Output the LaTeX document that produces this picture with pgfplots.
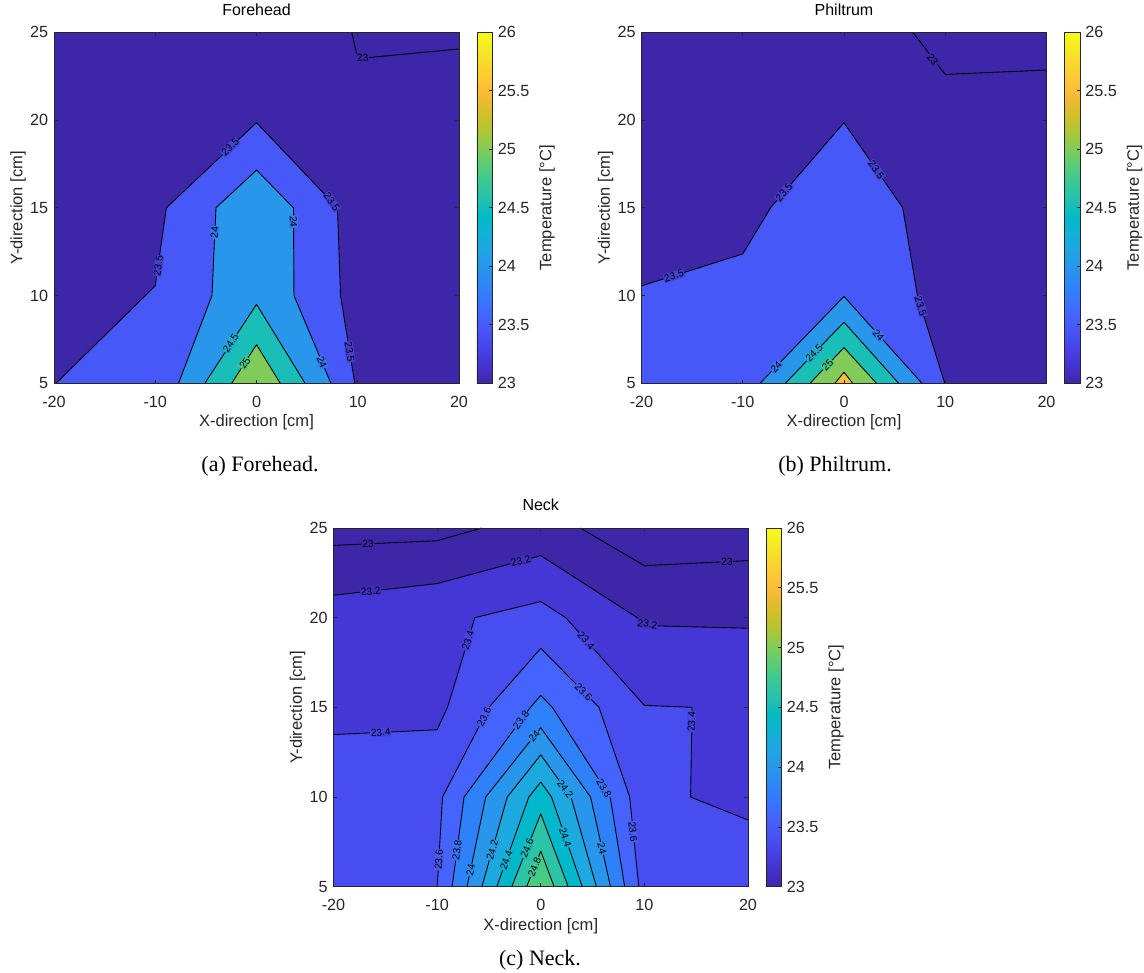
\documentclass[border=0pt]{standalone}
\usepackage{fontspec}
\setmainfont{Liberation Sans}
\newfontfamily\capfont{Liberation Serif}
\usepackage{pgfplots}
\pgfplotsset{compat=1.18}

% parula levels (MATLAB 64-colour map, clim 23..26)
\definecolor{axgray}{rgb}{0.15,0.15,0.15}
\definecolor{c1}{rgb}{0.2422,0.1504,0.6603}
\definecolor{c5}{rgb}{0.2706,0.2147,0.8364}
\definecolor{c9}{rgb}{0.2813,0.3006,0.9414}
\definecolor{c11}{rgb}{0.2795,0.3447,0.9717}
\definecolor{c13}{rgb}{0.2699,0.3892,0.9906}
\definecolor{c18}{rgb}{0.1834,0.5074,0.9798}
\definecolor{c22}{rgb}{0.1540,0.5902,0.9218}
\definecolor{c26}{rgb}{0.1113,0.6635,0.8763}
\definecolor{c30}{rgb}{0.0036,0.7203,0.7917}
\definecolor{c33}{rgb}{0.0964,0.7500,0.7120}
\definecolor{c35}{rgb}{0.1717,0.7670,0.6554}
\definecolor{c39}{rgb}{0.2906,0.7973,0.5188}
\definecolor{c43}{rgb}{0.5044,0.7993,0.3480}
\definecolor{c54}{rgb}{0.9956,0.7434,0.2371}

\newcommand\tickf{\fontsize{9.2}{11}\selectfont}
\newcommand\labf{\fontsize{9.4}{11}\selectfont}
\newcommand\cl[5]{\node[clab, rotate=#3, fill=#5] at (axis cs:#1,#2) {#4};}

\tikzset{clab/.style={font=\fontsize{5.8}{6}\selectfont, inner sep=0.4pt, text=black}}

\pgfplotsset{
  colormap={parula}{
    rgb=(0.2422,0.1504,0.6603) rgb=(0.2647,0.1978,0.7952) rgb=(0.2783,0.2559,0.8991)
    rgb=(0.2810,0.3228,0.9579) rgb=(0.2699,0.3892,0.9906) rgb=(0.2206,0.4603,0.9973)
    rgb=(0.1786,0.5289,0.9682) rgb=(0.1540,0.5902,0.9218) rgb=(0.1248,0.6459,0.8883)
    rgb=(0.0689,0.6948,0.8394) rgb=(0.0067,0.7312,0.7660) rgb=(0.1408,0.7584,0.6842)
    rgb=(0.2161,0.7843,0.5923) rgb=(0.3406,0.8008,0.4789) rgb=(0.5044,0.7993,0.3480)
    rgb=(0.6720,0.7793,0.2227) rgb=(0.8203,0.7498,0.1535) rgb=(0.9393,0.7288,0.2100)
    rgb=(0.9970,0.7659,0.2199) rgb=(0.9786,0.8386,0.1766) rgb=(0.9597,0.9135,0.1423)
    rgb=(0.9769,0.9839,0.0805)
  },
  cline/.style={black, line width=0.5pt, line join=round},
  heat/.style={
    scale only axis, axis on top,
    xmin=-20, xmax=20, ymin=5, ymax=25,
    xtick={-20,-10,0,10,20}, ytick={5,10,15,20,25},
    tick align=inside, major tick length=0.07cm,
    axis line style={axgray, line width=0.4pt},
    tick style={axgray, line width=0.4pt},
    /pgf/number format/assume math mode=true,
    tick label style={text=axgray, font=\tickf},
    xticklabel style={inner sep=0pt, yshift=-0.25cm},
    yticklabel style={inner sep=0pt, xshift=-0.11cm},
    xlabel={X-direction [cm]}, ylabel={Y-direction [cm]},
    label style={text=axgray, font=\labf},
    xlabel style={at={(axis description cs:0.5,0)}, anchor=north, inner sep=0pt, yshift=-0.62cm},
    ylabel style={at={([xshift=-0.72cm]axis description cs:0,0.5)}, anchor=center, inner sep=0pt},
    title style={at={(axis description cs:0.5,1)}, anchor=base, inner sep=0pt, yshift=0.13cm, font=\fontsize{9.1}{11}\selectfont},
    colormap name=parula, point meta min=23, point meta max=26,
    colorbar,
    colorbar style={
      scale only axis, width=0.31cm,
      at={(parent axis.north east)}, anchor=north west, xshift=0.06cm,
      ytick={23,23.5,24,24.5,25,25.5,26},
      ytick pos=right, yticklabel pos=right,
      tick align=inside, major tick length=0.06cm,
      axis line style={axgray, line width=0.4pt},
      tick style={axgray, line width=0.4pt},
      /pgf/number format/assume math mode=true,
      yticklabel style={inner sep=0pt, xshift=0.1cm, text=axgray, font=\tickf, anchor=west},
      ylabel={Temperature [°C]},
      ylabel style={at={([xshift=1.40cm]axis description cs:0,0.5)}, anchor=center, inner sep=0pt, text=axgray, font=\labf},
    },
  },
}

\begin{document}
\begin{tikzpicture}
\path[use as bounding box] (0,0) rectangle (22.88cm,19.46cm);

% ---------------- (a) Forehead
\begin{axis}[heat, at={(1.08cm,11.794cm)}, anchor=south west, width=8.10cm, height=7.02cm, title={Forehead}]
\addplot[fill=c1, draw=none] coordinates {(-20,5) (-20,25) (20,25) (20,5)} -- cycle;
\addplot[fill=c11, draw=none] coordinates {(-19.8,5) (-10,10.55) (-8.9,15) (0,19.85) (8,15) (8.3,10) (9.7,5)} -- cycle;
\addplot[fill=c22, draw=none] coordinates {(-7.7,5) (-4.4,10) (-4.0,15) (0,17.15) (3.65,15) (3.7,10) (7.35,5)} -- cycle;
\addplot[fill=c33, draw=none] coordinates {(-5.1,5) (0,9.5) (4.8,5)} -- cycle;
\addplot[fill=c43, draw=none] coordinates {(-2.45,5) (0,7.2) (2.35,5)} -- cycle;
\addplot[cline] coordinates {(9.4,25) (10,23.5) (20,24.05)};
\addplot[cline] coordinates {(-19.8,5) (-10,10.55) (-8.9,15) (0,19.85) (8,15) (8.3,10) (9.7,5)};
\addplot[cline] coordinates {(-7.7,5) (-4.4,10) (-4.0,15) (0,17.15) (3.65,15) (3.7,10) (7.35,5)};
\addplot[cline] coordinates {(-5.1,5) (0,9.5) (4.8,5)};
\addplot[cline] coordinates {(-2.45,5) (0,7.2) (2.35,5)};
\cl{10.5}{23.55}{5}{23}{c1}
\cl{-2.6}{18.45}{43}{23.5}{c1!50!c11}
\cl{7.45}{15.35}{-55}{23.5}{c1!50!c11}
\cl{-9.7}{11.7}{82}{23.5}{c1!50!c11}
\cl{9.2}{6.8}{-81}{23.5}{c1!50!c11}
\cl{-4.15}{13.6}{87}{24}{c11!50!c22}
\cl{3.67}{14.2}{-89}{24}{c11!50!c22}
\cl{6.47}{6.2}{-67}{24}{c11!50!c22}
\cl{-2.55}{7.3}{57}{24.5}{c22!50!c33}
\cl{-1.15}{6.15}{57}{25}{c33!50!c43}
\end{axis}

% ---------------- (b) Philtrum
\begin{axis}[heat, at={(12.83cm,11.794cm)}, anchor=south west, width=8.10cm, height=7.02cm, title={Philtrum}]
\addplot[fill=c1, draw=none] coordinates {(-20,5) (-20,25) (20,25) (20,5)} -- cycle;
\addplot[fill=c11, draw=none] coordinates {(-20,5) (-20,10.55) (-10,12.37) (-7.25,15) (0,19.85) (5.8,15) (7.25,10) (9.95,5)} -- cycle;
\addplot[fill=c22, draw=none] coordinates {(-8.3,5) (0,9.95) (7.7,5)} -- cycle;
\addplot[fill=c33, draw=none] coordinates {(-5.8,5) (0,8.48) (5.4,5)} -- cycle;
\addplot[fill=c43, draw=none] coordinates {(-3.36,5) (0,7.03) (3.21,5)} -- cycle;
\addplot[fill=c54, draw=none] coordinates {(-0.9,5) (0,5.63) (0.86,5)} -- cycle;
\addplot[cline] coordinates {(6.8,25) (10,22.6) (20,22.85)};
\addplot[cline] coordinates {(-20,10.55) (-10,12.37) (-7.25,15) (0,19.85) (5.8,15) (7.25,10) (9.95,5)};
\addplot[cline] coordinates {(-8.3,5) (0,9.95) (7.7,5)};
\addplot[cline] coordinates {(-5.8,5) (0,8.48) (5.4,5)};
\addplot[cline] coordinates {(-3.36,5) (0,7.03) (3.21,5)};
\addplot[cline] coordinates {(-0.9,5) (0,5.63) (0.86,5)};
\cl{8.75}{23.45}{-52}{23}{c1}
\cl{-16.8}{11.13}{17.5}{23.5}{c1!50!c11}
\cl{-5.93}{15.88}{49}{23.5}{c1!50!c11}
\cl{3.2}{17.18}{-55}{23.5}{c1!50!c11}
\cl{7.57}{9.4}{-73}{23.5}{c1!50!c11}
\cl{-6.7}{5.95}{46}{24}{c11!50!c22}
\cl{3.42}{7.75}{-48}{24}{c11!50!c22}
\cl{-2.95}{6.71}{46}{24.5}{c22!50!c33}
\cl{-1.62}{6.05}{46}{25}{c33!50!c43}
\end{axis}

% ---------------- (c) Neck
\begin{axis}[heat, at={(6.67cm,1.726cm)}, anchor=south west, width=8.29cm, height=7.174cm, title={Neck}]
\addplot[fill=c1, draw=none] coordinates {(-20,5) (-20,25) (20,25) (20,5)} -- cycle;
\addplot[fill=c5, draw=none] coordinates {(-20,5) (-20,21.25) (-10,21.9) (0,23.46) (9.31,20) (10,19.56) (20,19.41) (20,5)} -- cycle;
\addplot[fill=c9, draw=none] coordinates {(-20,5) (-20,13.48) (-10,13.75) (-9,15) (-6.36,20) (0,20.9) (2.41,20) (10,15.11) (14.6,15) (14.46,10) (20,8.72) (20,5)} -- cycle;
\addplot[fill=c13, draw=none] coordinates {(-9.99,5) (-9.48,10) (-5,15) (0,18.29) (5.62,15) (8.58,10) (9.46,5)} -- cycle;
\addplot[fill=c18, draw=none] coordinates {(-8.55,5) (-7.4,10) (-1,15) (0,15.66) (1.12,15) (6.7,10) (8.1,5)} -- cycle;
\addplot[fill=c22, draw=none] coordinates {(-7.11,5) (-5.31,10) (0,13.86) (4.81,10) (6.73,5)} -- cycle;
\addplot[fill=c26, draw=none] coordinates {(-5.68,5) (-3.23,10) (0,12.35) (2.92,10) (5.37,5)} -- cycle;
\addplot[fill=c30, draw=none] coordinates {(-4.24,5) (-1.15,10) (0,10.83) (1.04,10) (4.01,5)} -- cycle;
\addplot[fill=c35, draw=none] coordinates {(-2.8,5) (0,9.06) (2.65,5)} -- cycle;
\addplot[fill=c39, draw=none] coordinates {(-1.36,5) (0,6.98) (1.29,5)} -- cycle;
\addplot[cline] coordinates {(-20,24.03) (-10,24.29) (-5.71,25)};
\addplot[cline] coordinates {(3.81,25) (10,22.9) (20,23.18)};
\addplot[cline] coordinates {(-20,21.25) (-10,21.9) (0,23.46) (9.31,20) (10,19.56) (20,19.41)};
\addplot[cline] coordinates {(-20,13.48) (-10,13.75) (-9,15) (-6.36,20) (0,20.9) (2.41,20) (10,15.11) (14.6,15) (14.46,10) (20,8.72)};
\addplot[cline] coordinates {(-9.99,5) (-9.48,10) (-5,15) (0,18.29) (5.62,15) (8.58,10) (9.46,5)};
\addplot[cline] coordinates {(-8.55,5) (-7.4,10) (-1,15) (0,15.66) (1.12,15) (6.7,10) (8.1,5)};
\addplot[cline] coordinates {(-7.11,5) (-5.31,10) (0,13.86) (4.81,10) (6.73,5)};
\addplot[cline] coordinates {(-5.68,5) (-3.23,10) (0,12.35) (2.92,10) (5.37,5)};
\addplot[cline] coordinates {(-4.24,5) (-1.15,10) (0,10.83) (1.04,10) (4.01,5)};
\addplot[cline] coordinates {(-2.8,5) (0,9.06) (2.65,5)};
\addplot[cline] coordinates {(-1.36,5) (0,6.98) (1.29,5)};
\cl{-16.67}{24.12}{2.6}{23}{c1}
\cl{17.96}{23.12}{2.8}{23}{c1}
\cl{-16.4}{21.48}{6.5}{23.2}{c1!50!c5}
\cl{-1.93}{23.16}{15}{23.2}{c1!50!c5}
\cl{10.3}{19.65}{-8}{23.2}{c1!50!c5}
\cl{-15.44}{13.6}{2.7}{23.4}{c5!50!c9}
\cl{-7.02}{18.75}{73}{23.4}{c5!50!c9}
\cl{4.39}{18.72}{-48}{23.4}{c5!50!c9}
\cl{14.55}{14.2}{88}{23.4}{c5!50!c9}
\cl{-5.46}{14.48}{62.6}{23.6}{c9!50!c13}
\cl{4.13}{15.87}{-45}{23.6}{c9!50!c13}
\cl{-9.84}{6.5}{86.6}{23.6}{c9!50!c13}
\cl{8.9}{8.06}{-84}{23.6}{c9!50!c13}
\cl{-1.91}{14.29}{53.5}{23.8}{c13!50!c18}
\cl{6.1}{10.5}{-60}{23.8}{c13!50!c18}
\cl{-8.08}{7.04}{82.4}{23.8}{c13!50!c18}
\cl{-0.63}{13.4}{51.5}{24}{c18!50!c22}
\cl{-6.78}{5.93}{78.3}{24}{c18!50!c22}
\cl{5.91}{7.14}{-77.5}{24}{c18!50!c22}
\cl{2.38}{10.43}{-54.4}{24.2}{c22!50!c26}
\cl{-4.68}{7.04}{74.2}{24.2}{c22!50!c26}
\cl{-3.33}{6.48}{70.4}{24.4}{c26!50!c30}
\cl{2.38}{7.75}{-71}{24.4}{c26!50!c30}
\cl{-1.32}{7.14}{68.3}{24.6}{c30!50!c35}
\cl{-0.6}{6.11}{68.3}{24.8}{c35!50!c39}
\end{axis}

\node[anchor=base, font=\capfont\fontsize{12.5}{14}\selectfont] at (5.2cm,10.03cm) {(a) Forehead.};
\node[anchor=base, font=\capfont\fontsize{12.5}{14}\selectfont] at (16.7cm,10.03cm) {(b) Philtrum.};
\node[anchor=base, font=\capfont\fontsize{12.5}{14}\selectfont] at (10.8cm,0.14cm) {(c) Neck.};
\end{tikzpicture}
\end{document}
